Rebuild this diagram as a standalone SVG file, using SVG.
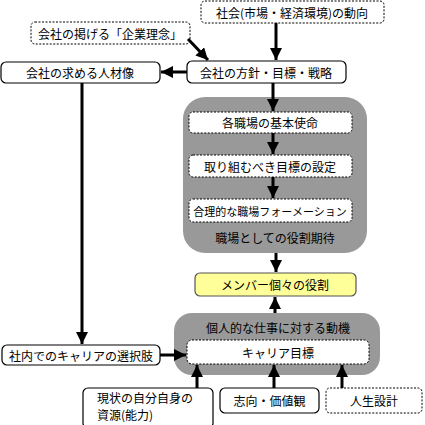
<svg xmlns="http://www.w3.org/2000/svg" width="425" height="425" viewBox="0 0 425 425">
<defs>
<marker id="ah" viewBox="0 0 10 10" refX="10" refY="5" markerWidth="4" markerHeight="4" orient="auto" markerUnits="strokeWidth"><path d="M0,0 L10,5 L0,10 z" fill="#000"/></marker>
<style>
.t{font-family:"Noto Sans CJK JP","Noto Sans CJK SC",sans-serif;font-size:12px;fill:#000;text-anchor:middle;dominant-baseline:central}
.s{fill:#fff;stroke:#000;stroke-width:1.2}
.d{fill:#fff;stroke:#000;stroke-width:1;stroke-dasharray:2,1.5}
.g{fill:#999;stroke:none}
.c{stroke:#000;stroke-width:3;fill:none;marker-end:url(#ah)}
</style>
</defs>
<g id="n_shakai"><rect class="d" x="201" y="1" width="183" height="22" rx="4"/><text class="t" x="292" y="12">社会(市場・経済環境)の動向</text></g>
<g id="n_rinen"><rect class="d" x="31" y="22" width="159" height="22" rx="4"/><text class="t" x="110" y="33">会社の掲げる「企業理念」</text></g>
<g id="n_hoshin"><rect class="s" x="187" y="61" width="159" height="22" rx="5"/><text class="t" x="266" y="72">会社の方針・目標・戦略</text></g>
<g id="n_jinzai"><rect class="s" x="1" y="62" width="159" height="21" rx="5"/><text class="t" x="80" y="72.5">会社の求める人材像</text></g>
<g id="n_shokuba"><rect class="g" x="183" y="97" width="184" height="156" rx="22"/>
<text class="t" x="275" y="237">職場としての役割期待</text></g>
<g id="n_shimei"><rect class="d" x="189" y="112" width="163" height="21" rx="4"/><text class="t" x="270" y="122.5">各職場の基本使命</text></g>
<g id="n_mokuhyo"><rect class="d" x="189" y="155" width="163" height="22" rx="4"/><text class="t" x="270" y="166">取り組むべき目標の設定</text></g>
<g id="n_formation"><rect class="d" x="189" y="199" width="163" height="23" rx="4"/><text class="t" x="270" y="210.5" style="font-size:11px">合理的な職場フォーメーション</text></g>
<g id="n_member"><rect x="195" y="273" width="161" height="23" rx="5" fill="#ffff99" stroke="#555" stroke-width="1.2"/><text class="t" x="275" y="284.5">メンバー個々の役割</text></g>
<g id="n_doki"><rect class="g" x="174" y="313" width="206" height="62" rx="18"/><text class="t" x="278" y="327">個人的な仕事に対する動機</text></g>
<g id="n_career"><rect class="d" x="187" y="340" width="182" height="24" rx="5"/><text class="t" x="278" y="352">キャリア目標</text></g>
<g id="n_sentaku"><rect class="s" x="2" y="345" width="158" height="20" rx="5"/><text class="t" x="81" y="355">社内でのキャリアの選択肢</text></g>
<g id="n_shigen"><rect class="s" x="83" y="388" width="130" height="40" rx="5"/><text class="t" x="97" y="397" style="text-anchor:start">現状の自分自身の</text><text class="t" x="97" y="414" style="text-anchor:start">資源(能力)</text></g>
<g id="n_shiko"><rect class="s" x="220" y="388" width="99" height="25" rx="5"/><text class="t" x="269.5" y="400.5">志向・価値観</text></g>
<g id="n_jinsei"><rect class="d" x="326" y="388" width="96" height="25" rx="4"/><text class="t" x="374" y="400.5">人生設計</text></g>
<g id="connectors">
<line class="c" x1="276" y1="23" x2="276" y2="60"/>
<line class="c" x1="188" y1="39" x2="208" y2="60"/>
<line class="c" x1="187" y1="72" x2="161" y2="72"/>
<line class="c" x1="273" y1="83" x2="273" y2="111"/>
<line class="c" x1="273" y1="133" x2="273" y2="154"/>
<line class="c" x1="273" y1="177" x2="273" y2="198"/>
<line class="c" x1="276" y1="253" x2="276" y2="272"/>
<line class="c" x1="275" y1="313" x2="275" y2="297"/>
<line class="c" x1="82" y1="83" x2="82" y2="344"/>
<line class="c" x1="160" y1="355" x2="186" y2="355"/>
<line class="c" x1="197" y1="388" x2="197" y2="365"/>
<line class="c" x1="274" y1="388" x2="274" y2="365"/>
<line class="c" x1="342" y1="388" x2="342" y2="365"/>
</g>
</svg>
